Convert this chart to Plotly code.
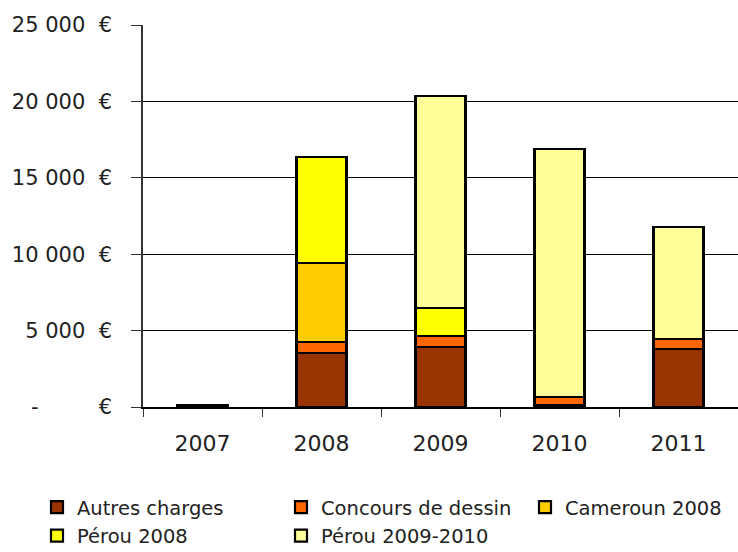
import plotly.graph_objects as go

years = ["2007", "2008", "2009", "2010", "2011"]
autres_charges = [100, 3530, 3950, 130, 3780]
concours_dessin = [0, 750, 700, 545, 670]
cameroun_2008 = [0, 5130, 0, 0, 0]
perou_2008 = [0, 6940, 1850, 0, 0]
perou_2009_2010 = [0, 0, 13850, 16190, 7350]

NB = "\u00a0"
y_tickvals = [0, 5000, 10000, 15000, 20000, 25000]
y_ticktext = ["-" + NB * 9 + "€",
              "5" + NB + "000" + NB * 2 + "€",
              "10" + NB + "000" + NB * 2 + "€",
              "15" + NB + "000" + NB * 2 + "€",
              "20" + NB + "000" + NB * 2 + "€",
              "25" + NB + "000" + NB * 2 + "€"]
grid_vals = [5000, 10000, 15000, 20000]

series = [
    ("Autres charges", autres_charges, "#993300"),
    ("Concours de dessin", concours_dessin, "#FF6600"),
    ("Cameroun 2008", cameroun_2008, "#FFCC00"),
    ("Pérou 2008", perou_2008, "#FFFF00"),
    ("Pérou 2009-2010", perou_2009_2010, "#FFFF99"),
]

fig = go.Figure()
for name, vals, color in series:
    fig.add_trace(go.Bar(
        x=years, y=vals, name=name,
        marker=dict(color=color, line=dict(color="black", width=2.2)),
        width=0.42,
    ))

FONT = "DejaVu Sans"
fig.update_layout(
    width=738, height=552, autosize=False,
    barmode="stack",
    paper_bgcolor="white", plot_bgcolor="white",
    margin=dict(l=143, r=0, t=25, b=145, autoexpand=False),
    font=dict(family=FONT, color="#222"),
    xaxis=dict(
        type="category", tickson="boundaries", ticks="outside", ticklen=8,
        tickcolor="#333", tickwidth=1,
        showline=True, linecolor="black", linewidth=2,
        showgrid=False, tickfont=dict(family=FONT, size=22, color="#222"),
        ticklabelstandoff=16,
    ),
    yaxis=dict(
        range=[0, 25000], tickvals=y_tickvals, ticktext=y_ticktext,
        ticks="outside", ticklen=10, tickcolor="#333", tickwidth=1,
        showline=True, linecolor="#333", linewidth=1.5,
        showgrid=False, zeroline=False,
        tickfont=dict(family=FONT, size=21, color="#222"),
        ticklabelstandoff=15,
    ),
    yaxis2=dict(
        overlaying="y", anchor="x", range=[0, 25000], tickvals=grid_vals,
        showgrid=True, gridcolor="black", gridwidth=1.2,
        showticklabels=False, ticks="", showline=False, zeroline=False,
    ),
    yaxis3=dict(
        overlaying="y", anchor="x", range=[0, 25000], tickvals=[25000],
        showgrid=False, showticklabels=False, ticks="inside", ticklen=12,
        tickcolor="#333", tickwidth=1, showline=False, zeroline=False,
    ),
    legend=dict(
        orientation="h", xref="paper", yref="paper",
        x=(37 - 143) / 595, y=-(488 - 407) / 382,
        xanchor="left", yanchor="top",
        entrywidth=199, entrywidthmode="pixels",
        traceorder="normal", bgcolor="rgba(0,0,0,0)",
        font=dict(family=FONT, size=19.5, color="#222"),
    ),
    showlegend=True,
)

# invisible helper traces so the overlay axes are drawn
fig.add_trace(go.Scatter(x=[None], y=[None], yaxis="y2", showlegend=False, hoverinfo="skip"))
fig.add_trace(go.Scatter(x=[None], y=[None], yaxis="y3", showlegend=False, hoverinfo="skip"))

fig.write_html("out.html", config={"displayModeBar": False},
               post_script="document.body.style.margin='0px';")
